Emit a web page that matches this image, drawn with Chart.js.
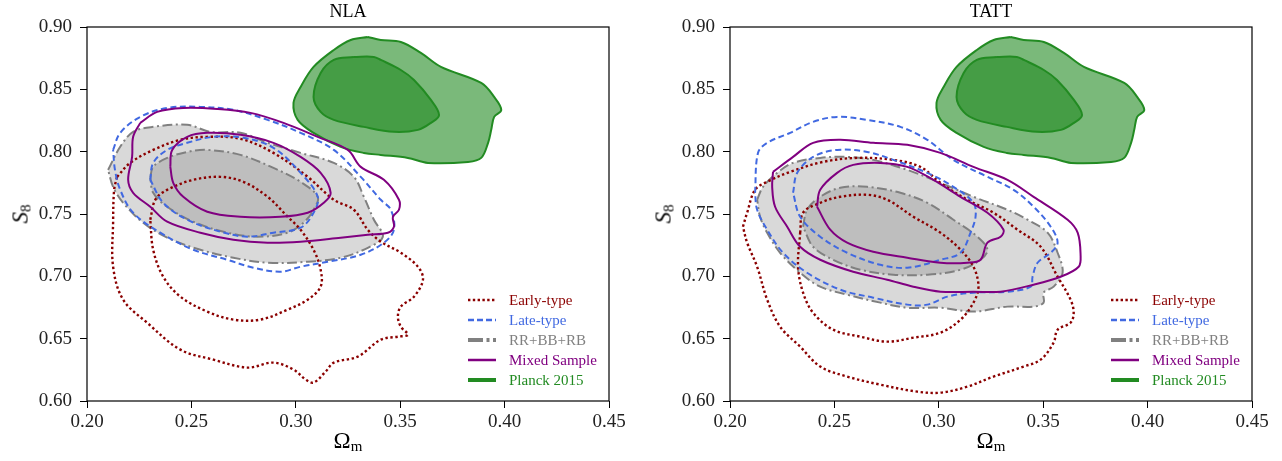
<!DOCTYPE html>
<html>
<head>
<meta charset="utf-8">
<script src="https://cdn.jsdelivr.net/npm/chart.js@4.4.1/dist/chart.umd.min.js"></script>
<style>
    body { margin: 0; background: #fff; width: 1282px; height: 461px; overflow: hidden; position: relative; font-family: "Liberation Serif", serif; color: #000; }
    canvas { position: absolute; top: 0; }
    .title { position: absolute; top: 1px; font-size: 18px; transform: translateX(-50%); white-space: nowrap; }
    .xlabel { position: absolute; top: 428px; font-size: 23px; transform: translateX(-50%); white-space: nowrap; }
    .xlabel sub { font-size: 15px; vertical-align: -3px; }
    .ylabel { position: absolute; top: 214px; font-size: 23px; transform: translate(-50%, -50%) rotate(-90deg); white-space: nowrap; }
    .ylabel sub { font-size: 15px; vertical-align: -3px; }
</style>
</head>
<body>
<canvas id="nlaChart" width="641" height="461" style="left:0"></canvas>
<canvas id="tattChart" width="639" height="461" style="left:643px"></canvas>

<div class="title" style="left:348px">NLA</div>
<div class="title" style="left:991px">TATT</div>
<div class="xlabel" style="left:348px">Ω<sub>m</sub></div>
<div class="xlabel" style="left:991px">Ω<sub>m</sub></div>
<div class="ylabel" style="left:21px"><i>S</i><sub>8</sub></div>
<div class="ylabel" style="left:664px"><i>S</i><sub>8</sub></div>

<script>
// axis ticks
const xTickValues = [0.20, 0.25, 0.30, 0.35, 0.40, 0.45];
const yTickValues = [0.60, 0.65, 0.70, 0.75, 0.80, 0.85, 0.90];

// Planck 2015 (same in both panels)
const planckOuter = [
    [0.3345, 0.892], [0.3407, 0.8896], [0.3503, 0.888], [0.3599, 0.8792], [0.3695, 0.868],
    [0.3888, 0.8551], [0.395, 0.8439], [0.3984, 0.8335], [0.395, 0.8279], [0.3936, 0.8175],
    [0.3921, 0.8071], [0.3888, 0.795], [0.3825, 0.7918], [0.3633, 0.791], [0.3537, 0.795],
    [0.3407, 0.7974], [0.3326, 0.799], [0.3215, 0.8039], [0.3085, 0.8151], [0.3009, 0.8255],
    [0.2989, 0.8391], [0.3023, 0.8519], [0.3085, 0.868], [0.3182, 0.8816], [0.3263, 0.8896]
];
const planckInner = [
    [0.3278, 0.876], [0.3374, 0.876], [0.3407, 0.8736], [0.3503, 0.8655], [0.3566, 0.8575],
    [0.3647, 0.8415], [0.3686, 0.8295], [0.3647, 0.8231], [0.3585, 0.8175], [0.347, 0.8159],
    [0.3326, 0.8199], [0.3182, 0.8255], [0.3119, 0.8319], [0.3085, 0.8439], [0.3119, 0.8631],
    [0.3182, 0.8736]
];

// NLA panel
const nlaRROuter = [
    [0.2101, 0.7854], [0.2159, 0.8039], [0.2221, 0.8159], [0.2317, 0.8199], [0.248, 0.8215],
    [0.2591, 0.8159], [0.2735, 0.8151], [0.2865, 0.8071], [0.3023, 0.799], [0.3182, 0.791],
    [0.3278, 0.7798], [0.3326, 0.7638], [0.3374, 0.7454], [0.3417, 0.7318], [0.3345, 0.7229],
    [0.3215, 0.7149], [0.3057, 0.7117], [0.2865, 0.7109], [0.2701, 0.7149], [0.2543, 0.7213],
    [0.2384, 0.731], [0.2269, 0.743], [0.2173, 0.759], [0.2125, 0.7718]
];
const nlaRRInner = [
    [0.2303, 0.779], [0.2317, 0.7878], [0.2384, 0.795], [0.248, 0.7998], [0.2576, 0.8014],
    [0.2735, 0.7974], [0.2893, 0.787], [0.3023, 0.7758], [0.3105, 0.7638], [0.3085, 0.7534],
    [0.3037, 0.743], [0.2961, 0.735], [0.2817, 0.7318], [0.2672, 0.735], [0.2509, 0.7438],
    [0.2384, 0.7558], [0.2317, 0.767]
];
const nlaLateOuter = [
    [0.2125, 0.8014], [0.2159, 0.8151], [0.2255, 0.8279], [0.2384, 0.8351], [0.2543, 0.8359],
    [0.2701, 0.8335], [0.2865, 0.8255], [0.3023, 0.8151], [0.3182, 0.8014], [0.3311, 0.7798],
    [0.3407, 0.7614], [0.3455, 0.7534], [0.347, 0.7373], [0.3422, 0.727], [0.3311, 0.7173],
    [0.3153, 0.7117], [0.3023, 0.7077], [0.2927, 0.7037], [0.2797, 0.7069], [0.2672, 0.7133],
    [0.2509, 0.7213], [0.2351, 0.735], [0.2221, 0.751], [0.2159, 0.7694], [0.2134, 0.7854]
];
const nlaLateInner = [
    [0.2303, 0.7774], [0.2317, 0.791], [0.2384, 0.8014], [0.248, 0.8071], [0.2605, 0.8119],
    [0.2749, 0.8111], [0.2893, 0.8031], [0.3023, 0.783], [0.3105, 0.7638], [0.3085, 0.751],
    [0.3023, 0.739], [0.2893, 0.735], [0.2768, 0.7318], [0.2639, 0.7358], [0.248, 0.7454],
    [0.2365, 0.759]
];
const nlaMixedOuter = [
    [0.2255, 0.8231], [0.2336, 0.8319], [0.2461, 0.8351], [0.2624, 0.8343], [0.2783, 0.8311],
    [0.2941, 0.8231], [0.3105, 0.8119], [0.3249, 0.8014], [0.3311, 0.7878], [0.3422, 0.7774],
    [0.3494, 0.7614], [0.3494, 0.7534], [0.3465, 0.7478], [0.347, 0.7398], [0.3441, 0.735],
    [0.3345, 0.7334], [0.3215, 0.731], [0.3023, 0.7278], [0.2865, 0.727], [0.2701, 0.7294],
    [0.2543, 0.735], [0.2384, 0.7438], [0.2303, 0.7558], [0.2221, 0.767], [0.2197, 0.7774],
    [0.2216, 0.7958], [0.2221, 0.8119]
];
const nlaMixedInner = [
    [0.2399, 0.7878], [0.2408, 0.8014], [0.248, 0.8119], [0.2576, 0.8151], [0.2735, 0.8135],
    [0.2893, 0.8071], [0.3023, 0.7958], [0.3119, 0.783], [0.3167, 0.767], [0.3134, 0.759],
    [0.3057, 0.751], [0.2927, 0.7478], [0.2735, 0.7478], [0.2576, 0.7518], [0.2461, 0.7638],
    [0.2413, 0.775]
];
const nlaEarlyOuter = [
    [0.2144, 0.7798], [0.2207, 0.791], [0.2317, 0.8014], [0.2447, 0.8095], [0.2576, 0.8119],
    [0.2735, 0.8103], [0.2893, 0.799], [0.3057, 0.7798], [0.3182, 0.7614], [0.3278, 0.7534],
    [0.3345, 0.7373], [0.3407, 0.7278], [0.3503, 0.7189], [0.3585, 0.7077], [0.3609, 0.6973],
    [0.3566, 0.6837], [0.3503, 0.6757], [0.3489, 0.6676], [0.3503, 0.6596], [0.3537, 0.6532],
    [0.3489, 0.6516], [0.3407, 0.6492], [0.3297, 0.6356], [0.3182, 0.6308], [0.3143, 0.6236],
    [0.3085, 0.6148], [0.3047, 0.6172], [0.2989, 0.6252], [0.2893, 0.6308], [0.2768, 0.6268],
    [0.2605, 0.6332], [0.2447, 0.6412], [0.2288, 0.6628], [0.2173, 0.6813], [0.2125, 0.7077],
    [0.2125, 0.743], [0.213, 0.7694]
];
const nlaEarlyInner = [
    [0.2303, 0.7454], [0.2327, 0.7614], [0.2384, 0.7694], [0.2509, 0.7774], [0.2639, 0.7798],
    [0.2749, 0.7758], [0.2865, 0.7638], [0.2961, 0.7478], [0.3023, 0.7373], [0.3085, 0.7213],
    [0.3119, 0.7053], [0.3119, 0.6917], [0.3057, 0.6813], [0.2961, 0.6733], [0.2831, 0.6653],
    [0.2701, 0.6653], [0.2576, 0.6717], [0.2447, 0.6837], [0.2365, 0.6997], [0.2317, 0.7213]
];

// TATT panel
const tattRROuter = [
    [0.213, 0.7614], [0.2158, 0.7718], [0.2226, 0.783], [0.2302, 0.791], [0.2432, 0.795],
    [0.2561, 0.7958], [0.2686, 0.7934], [0.2849, 0.7854], [0.3008, 0.775], [0.3166, 0.7638],
    [0.3329, 0.7534], [0.3425, 0.7454], [0.3521, 0.735], [0.3569, 0.7189], [0.3593, 0.7029],
    [0.355, 0.6917], [0.3502, 0.6869], [0.3502, 0.6789], [0.3454, 0.6757], [0.3329, 0.6757],
    [0.3166, 0.6717], [0.3008, 0.6748], [0.2849, 0.6748], [0.272, 0.6789], [0.2561, 0.6853],
    [0.2432, 0.6917], [0.2336, 0.7029], [0.224, 0.7189], [0.2178, 0.735], [0.2144, 0.7478]
];
const tattRRInner = [
    [0.235, 0.7398], [0.2369, 0.7534], [0.2432, 0.7638], [0.2528, 0.771], [0.2657, 0.7718],
    [0.2816, 0.767], [0.2945, 0.759], [0.307, 0.7454], [0.3185, 0.7318], [0.3233, 0.7213],
    [0.32, 0.7133], [0.3104, 0.7053], [0.2945, 0.7013], [0.2782, 0.7013], [0.2624, 0.7053],
    [0.2494, 0.7133], [0.2398, 0.7237]
];
const tattLateOuter = [
    [0.212, 0.767], [0.2134, 0.799], [0.2178, 0.8071], [0.2288, 0.8151], [0.2398, 0.8239],
    [0.2513, 0.8279], [0.2657, 0.8255], [0.2816, 0.8199], [0.2945, 0.8095], [0.307, 0.7934],
    [0.3233, 0.7798], [0.3358, 0.7694], [0.3454, 0.7558], [0.3536, 0.7398], [0.3569, 0.727],
    [0.3536, 0.7189], [0.3473, 0.7109], [0.3449, 0.6997], [0.344, 0.6917], [0.3329, 0.6877],
    [0.3166, 0.6869], [0.3041, 0.6837], [0.2945, 0.6773], [0.2849, 0.6773], [0.2686, 0.6829],
    [0.2528, 0.6893], [0.2369, 0.7029], [0.2254, 0.7189], [0.2178, 0.7374], [0.213, 0.7534]
];
const tattLateInner = [
    [0.2302, 0.767], [0.2322, 0.783], [0.2398, 0.7958], [0.2513, 0.8014], [0.2657, 0.7998],
    [0.2782, 0.7934], [0.2945, 0.783], [0.307, 0.7718], [0.3166, 0.759], [0.3176, 0.7478],
    [0.3152, 0.735], [0.3104, 0.7189], [0.3008, 0.7133], [0.2849, 0.7069], [0.272, 0.7093],
    [0.2561, 0.7189], [0.2432, 0.7318], [0.2336, 0.7478]
];
const tattMixedOuter = [
    [0.2206, 0.7838], [0.2302, 0.7958], [0.2398, 0.8071], [0.2528, 0.8095], [0.2686, 0.8071],
    [0.2849, 0.8055], [0.3008, 0.799], [0.3166, 0.7878], [0.3329, 0.7774], [0.3454, 0.7638],
    [0.3617, 0.7454], [0.3665, 0.735], [0.3679, 0.7173], [0.367, 0.7077], [0.3583, 0.6997],
    [0.3454, 0.6933], [0.3296, 0.6877], [0.3166, 0.6877], [0.3008, 0.6877], [0.2878, 0.6917],
    [0.2753, 0.6973], [0.259, 0.7037], [0.2432, 0.7133], [0.2336, 0.7237], [0.2274, 0.7398],
    [0.2216, 0.7558], [0.2202, 0.7718]
];
const tattMixedInner = [
    [0.2417, 0.7558], [0.2432, 0.7694], [0.2513, 0.783], [0.259, 0.7894], [0.272, 0.791],
    [0.2849, 0.7878], [0.2974, 0.7774], [0.3104, 0.7638], [0.3233, 0.751], [0.331, 0.7374],
    [0.3296, 0.7318], [0.3233, 0.727], [0.32, 0.7133], [0.3137, 0.7109], [0.3008, 0.7109],
    [0.2849, 0.7149], [0.2686, 0.7197], [0.2561, 0.727], [0.248, 0.7374]
];
const tattEarlyOuter = [
    [0.2062, 0.7398], [0.2082, 0.751], [0.212, 0.7694], [0.2178, 0.7758], [0.2288, 0.7838],
    [0.2446, 0.7918], [0.2609, 0.795], [0.2782, 0.7934], [0.2912, 0.7878], [0.3008, 0.775],
    [0.3137, 0.7614], [0.3262, 0.751], [0.3377, 0.7374], [0.3488, 0.7237], [0.3569, 0.6997],
    [0.3631, 0.6813], [0.3646, 0.6708], [0.3631, 0.6628], [0.3569, 0.6572], [0.355, 0.6468],
    [0.3488, 0.6332], [0.3406, 0.6276], [0.3262, 0.6196], [0.3137, 0.6115], [0.3008, 0.6067],
    [0.2897, 0.6075], [0.272, 0.6131], [0.2561, 0.6196], [0.2432, 0.6276], [0.2336, 0.6436],
    [0.224, 0.6596], [0.2178, 0.6813], [0.213, 0.7077], [0.2082, 0.727]
];
const tattEarlyInner = [
    [0.2336, 0.735], [0.235, 0.751], [0.2432, 0.759], [0.2528, 0.7638], [0.2657, 0.7654],
    [0.2753, 0.7614], [0.2878, 0.7478], [0.3008, 0.735], [0.3104, 0.7213], [0.3166, 0.7077],
    [0.319, 0.6917], [0.3166, 0.6789], [0.3104, 0.6652], [0.3008, 0.6548], [0.2878, 0.6508],
    [0.2753, 0.6476], [0.2624, 0.6516], [0.2494, 0.6572], [0.2398, 0.6708], [0.235, 0.6869],
    [0.2326, 0.7077]
];

// legend
const legendLabels = ['Early-type', 'Late-type', 'RR+BB+RB', 'Mixed Sample', 'Planck 2015'];
const legendColors = ['#8b0000', '#4169e1', '#808080', '#800080', '#228b22'];
const legendDashes = [[2.4, 2.4], [6, 3], [15, 3.5, 3, 3.5], [], []];
const legendWidths = [2.6, 2.5, 4, 2.5, 4];

Chart.defaults.font.family = "'Liberation Serif', serif";

function closed(pts) {
    return pts.concat([pts[0]]).map(p => ({ x: p[0], y: p[1] }));
}

function contour(pts, style, order) {
    return Object.assign({
        data: closed(pts),
        showLine: true,
        pointRadius: 0,
        pointHoverRadius: 0,
        tension: 0.35,
        borderWidth: 2,
        fill: false,
        order: order
    }, style);
}

const earlyStyle = { borderColor: '#8b0000', borderDash: [2.4, 2.6], borderWidth: 2.4 };
const lateStyle = { borderColor: '#4169e1', borderDash: [6, 3.5] };
const mixedStyle = { borderColor: '#800080' };
const rrStyle = { borderColor: '#808080', borderDash: [10, 3.5, 2, 3.5] };

function buildDatasets(p) {
    return [
        contour(p.mixedInner, mixedStyle, 1),
        contour(p.mixedOuter, mixedStyle, 1),
        contour(p.lateInner, lateStyle, 2),
        contour(p.lateOuter, lateStyle, 2),
        contour(p.earlyInner, earlyStyle, 3),
        contour(p.earlyOuter, earlyStyle, 3),
        contour(p.rrInner, Object.assign({ fill: 'shape', backgroundColor: '#bebebe' }, rrStyle), 5),
        contour(p.rrOuter, Object.assign({ fill: 'shape', backgroundColor: '#d9d9d9' }, rrStyle), 6),
        contour(planckInner, { borderColor: '#228b22', fill: 'shape', backgroundColor: '#459d45' }, 7),
        contour(planckOuter, { borderColor: '#228b22', fill: 'shape', backgroundColor: '#7ab97a' }, 8)
    ];
}

// black box round the plot area
const framePlugin = {
    id: 'frame',
    afterDatasetsDraw(chart) {
        const a = chart.chartArea;
        const ctx = chart.ctx;
        ctx.save();
        ctx.strokeStyle = '#000';
        ctx.lineWidth = 1.2;
        ctx.strokeRect(a.left, a.top, a.right - a.left, a.bottom - a.top);
        ctx.restore();
    }
};

// legend inside the lower right corner
const innerLegendPlugin = {
    id: 'innerLegend',
    afterDatasetsDraw(chart) {
        const a = chart.chartArea;
        const ctx = chart.ctx;
        ctx.save();
        ctx.font = "15px 'Liberation Serif', serif";
        ctx.textBaseline = 'middle';
        legendLabels.forEach((label, i) => {
            const y = a.top + 273 + i * 20;
            ctx.beginPath();
            ctx.strokeStyle = legendColors[i];
            ctx.lineWidth = legendWidths[i];
            ctx.setLineDash(legendDashes[i]);
            ctx.moveTo(a.left + 381, y);
            ctx.lineTo(a.left + 409, y);
            ctx.stroke();
            ctx.setLineDash([]);
            ctx.fillStyle = legendColors[i];
            ctx.fillText(label, a.left + 422, y + 1);
        });
        ctx.restore();
    }
};

function makeChart(id, panel, rightPad) {
    return new Chart(document.getElementById(id), {
        type: 'scatter',
        data: { datasets: buildDatasets(panel) },
        options: {
            responsive: false,
            animation: false,
            layout: { padding: { top: 27, right: rightPad, left: 0, bottom: 0 } },
            plugins: { legend: { display: false }, tooltip: { enabled: false } },
            scales: {
                x: {
                    type: 'linear', min: 0.2, max: 0.45,
                    afterBuildTicks: s => { s.ticks = xTickValues.map(v => ({ value: v })); },
                    afterFit: s => { s.height = 60; },
                    grid: { drawOnChartArea: false, drawTicks: true, tickLength: 7, tickColor: '#000', tickWidth: 1 },
                    border: { display: false },
                    ticks: { color: '#222', padding: 3, font: { size: 19 }, maxRotation: 0, callback: v => v.toFixed(2) }
                },
                y: {
                    type: 'linear', min: 0.6, max: 0.9,
                    afterBuildTicks: s => { s.ticks = yTickValues.map(v => ({ value: v })); },
                    afterFit: s => { s.width = 87; },
                    grid: { drawOnChartArea: false, drawTicks: true, tickLength: 7, tickColor: '#000', tickWidth: 1 },
                    border: { display: false },
                    ticks: { color: '#222', padding: 8, font: { size: 19 }, callback: v => v.toFixed(2) }
                }
            }
        },
        plugins: [framePlugin, innerLegendPlugin]
    });
}

window.addEventListener('load', () => {
    makeChart('nlaChart', {
        rrOuter: nlaRROuter, rrInner: nlaRRInner,
        lateOuter: nlaLateOuter, lateInner: nlaLateInner,
        mixedOuter: nlaMixedOuter, mixedInner: nlaMixedInner,
        earlyOuter: nlaEarlyOuter, earlyInner: nlaEarlyInner
    }, 32);
    makeChart('tattChart', {
        rrOuter: tattRROuter, rrInner: tattRRInner,
        lateOuter: tattLateOuter, lateInner: tattLateInner,
        mixedOuter: tattMixedOuter, mixedInner: tattMixedInner,
        earlyOuter: tattEarlyOuter, earlyInner: tattEarlyInner
    }, 30);
});
</script>
</body>
</html>
